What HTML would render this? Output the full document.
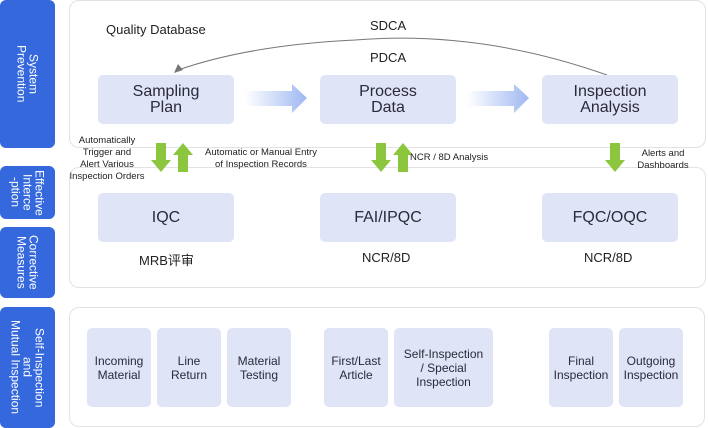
<!DOCTYPE html>
<html><head><meta charset="utf-8"><style>
body{margin:0;width:708px;height:428px;background:#fff;position:relative;overflow:hidden;font-family:"Liberation Sans","Noto Sans CJK SC",sans-serif;color:#222}
.a{position:absolute}
.tab{position:absolute;left:0;width:55px;background:#3468dc;border-radius:6px;color:#fff;writing-mode:vertical-rl;display:flex;align-items:center;justify-content:center;text-align:center;font-size:12px;line-height:12px}
.cont{position:absolute;border:1.5px solid #e2e2e2;border-radius:10px;box-sizing:border-box}
.box{position:absolute;background:#dfe5f6;border-radius:5px;display:flex;align-items:center;justify-content:center;text-align:center;color:#2a2a3a}
.big{font-size:16px;line-height:16px}
.sm{font-size:12px;line-height:14px}
.lbl{position:absolute;font-size:9.5px;line-height:12px;text-align:center;color:#222}
.t{position:absolute;font-size:13px;color:#222}
</style></head><body>
<div class="tab" style="top:0;height:148px">System<br>Prevention</div>
<div class="tab" style="top:166px;height:53px">Effective<br>Interce<br>-ption</div>
<div class="tab" style="top:227px;height:71px">Corrective<br>Measures</div>
<div class="tab" style="top:307px;height:121px">Self-Inspection<br>and<br>Mutual Inspection</div>

<div class="cont" style="left:69px;top:0;width:637px;height:148px"></div>
<div class="cont" style="left:69px;top:167px;width:637px;height:121px"></div>
<div class="cont" style="left:69px;top:307px;width:636px;height:120px"></div>

<div class="t" style="left:106px;top:22px">Quality Database</div>
<div class="t" style="left:370px;top:18px">SDCA</div>
<div class="t" style="left:370px;top:50px">PDCA</div>
<svg class="a" style="left:0;top:0" width="708" height="428">
<path d="M607 75 Q480 30 355 40 Q250 45 178 70" fill="none" stroke="#777" stroke-width="1"/>
<path d="M174 73 L178 64 L183 70 Z" fill="#777"/>
<defs><linearGradient id="g" x1="0" x2="1"><stop offset="0" stop-color="#fff"/><stop offset="1" stop-color="#9fb8f2"/></linearGradient></defs>
<path d="M245 91 H292 V84 L307 98 L292 113 V106 H245 Z" fill="url(#g)"/>
<path d="M467 91 H514 V84 L529 98 L514 113 V106 H467 Z" fill="url(#g)"/>
<g fill="#8cc63f">
<path d="M156 143 H166 V160 H171 L161 172 L151 160 H156 Z"/>
<path d="M178 172 H188 V155 H193 L183 143 L173 155 H178 Z"/>
<path d="M376 143 H386 V160 H391 L381 172 L371 160 H376 Z"/>
<path d="M398 172 H408 V155 H413 L403 143 L393 155 H398 Z"/>
<path d="M610 143 H620 V160 H625 L615 172 L605 160 H610 Z"/>
</g>
</svg>
<div class="box big" style="left:98px;top:75px;width:136px;height:49px">Sampling<br>Plan</div>
<div class="box big" style="left:320px;top:75px;width:136px;height:49px">Process<br>Data</div>
<div class="box big" style="left:542px;top:75px;width:136px;height:49px">Inspection<br>Analysis</div>

<div class="lbl" style="left:62px;top:135px;width:90px">Automatically<br>Trigger and<br>Alert Various<br>Inspection Orders</div>
<div class="lbl" style="left:196px;top:147px;width:130px">Automatic or Manual Entry<br>of Inspection Records</div>
<div class="lbl" style="left:410px;top:152px">NCR / 8D Analysis</div>
<div class="lbl" style="left:630px;top:148px;width:66px">Alerts and<br>Dashboards</div>

<div class="box big" style="left:98px;top:193px;width:136px;height:49px">IQC</div>
<div class="box big" style="left:320px;top:193px;width:136px;height:49px">FAI/IPQC</div>
<div class="box big" style="left:542px;top:193px;width:136px;height:49px">FQC/OQC</div>
<div class="t" style="left:139px;top:250px">MRB评审</div>
<div class="t" style="left:362px;top:250px">NCR/8D</div>
<div class="t" style="left:584px;top:250px">NCR/8D</div>

<div class="box sm" style="left:87px;top:328px;width:64px;height:79px">Incoming<br>Material</div>
<div class="box sm" style="left:157px;top:328px;width:64px;height:79px">Line<br>Return</div>
<div class="box sm" style="left:227px;top:328px;width:64px;height:79px">Material<br>Testing</div>
<div class="box sm" style="left:324px;top:328px;width:64px;height:79px">First/Last<br>Article</div>
<div class="box sm" style="left:394px;top:328px;width:99px;height:79px">Self-Inspection<br>/ Special<br>Inspection</div>
<div class="box sm" style="left:549px;top:328px;width:64px;height:79px">Final<br>Inspection</div>
<div class="box sm" style="left:619px;top:328px;width:64px;height:79px">Outgoing<br>Inspection</div>
</body></html>
